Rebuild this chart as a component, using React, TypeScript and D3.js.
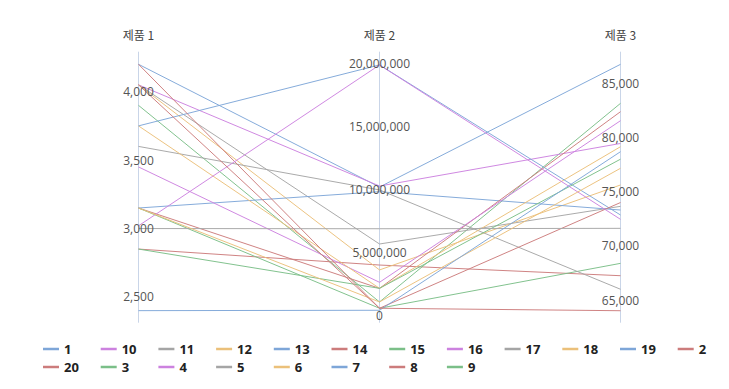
import React from "react";
import * as d3 from "d3";

const dimensions = ["제품 1", "제품 2", "제품 3"];
const seriesNames = ["1","2","3","4","5","6","7","8","9","10","11","12","13","14","15","16","17","18","19","20"];
const product1 = [4200, 2850, 3900, 4050, 4050, 4050, 3150, 3150, 3150, 3450, 3600, 3750, 3750, 4200, 2850, 3020, 3000, 3150, 2400, 4050];
const product2 = [10210000, 4020000, 1090000, 10290000, 5690000, 3630000, 9840000, 2170000, 590000, 2650000, 9980000, 2170000, 19900000, 590000, 2170000, 19900000, 6900000, 1090000, 430000, 590000];
const product3 = [86750, 67250, 83150, 79450, 73650, 75620, 73310, 82380, 68390, 81550, 66000, 79150, 72850, 74000, 78000, 72450, 71620, 77160, 78690, 64020];
const ticks1 = [2500, 3000, 3500, 4000];
const ticks2 = [0, 5000000, 10000000, 15000000, 20000000];
const ticks3 = [65000, 70000, 75000, 80000, 85000];
const domain1 = [2312, 4292];
const domain2 = [-556000, 20950000];
const domain3 = [62915, 87915];
const palette = ["#7ea6d8", "#cc7c7c", "#7bbf88", "#cc82df", "#a5a5a5", "#ebc07a"];

export default function App() {
  const W = 729, H = 389;
  const top = 51.7, bottom = 322.7;
  const x = d3.scalePoint<string>().domain(dimensions).range([138.5, 620.5]);
  const ys = [
    d3.scaleLinear().domain(domain1).range([bottom, top]),
    d3.scaleLinear().domain(domain2).range([bottom, top]),
    d3.scaleLinear().domain(domain3).range([bottom, top]),
  ];
  const tickSets = [ticks1, ticks2, ticks3];
  const cols = [product1, product2, product3];
  const fmt = d3.format(",");
  const line = d3.line<[number, number]>().x(d => d[0]).y(d => d[1]);

  const legendOrder = [...seriesNames].sort();
  const perRow = 12;
  const step = 57.7;

  return (
    <svg width={W} height={H} style={{ position: "absolute", left: 0, top: 0 }}
      fontFamily="'Open Sans', 'Noto Sans CJK KR', sans-serif">
      {dimensions.map((d, i) => (
        <g key={d}>
          <line x1={x(d)} x2={x(d)} y1={top} y2={bottom} stroke="#c9d5e8" strokeWidth={1} />
          <text x={x(d)} y={34} textAnchor="middle" dominantBaseline="central" fontSize={12}
            fill="#444" fontFamily="'Noto Sans CJK KR', sans-serif">{d}</text>
        </g>
      ))}
      {seriesNames.map((s, i) => {
        const pts: [number, number][] = dimensions.map((d, j) => [x(d)!, ys[j](cols[j][i])]);
        return (
          <path key={s} d={line(pts)!} fill="none" stroke={palette[i % palette.length]}
            strokeWidth={1} strokeOpacity={0.95} />
        );
      })}
      {dimensions.map((d, i) => (
        <g key={"t" + d}>
          {tickSets[i].map(t => (
            <text key={t} x={x(d)} y={ys[i](t)} textAnchor="middle" dominantBaseline="central"
              fontSize={12} fill="#555">{fmt(t)}</text>
          ))}
        </g>
      ))}
      {legendOrder.map((s, k) => {
        const idx = seriesNames.indexOf(s);
        const lx = 43 + (k % perRow) * step;
        const ly = 349 + Math.floor(k / perRow) * 18;
        return (
          <g key={"l" + s}>
            <line x1={lx} x2={lx + 16} y1={ly} y2={ly} stroke={palette[idx % palette.length]} strokeWidth={2.5} />
            <text x={lx + 21} y={ly} dominantBaseline="central" fontSize={13} fontWeight="bold" fill="#222">{s}</text>
          </g>
        );
      })}
    </svg>
  );
}
